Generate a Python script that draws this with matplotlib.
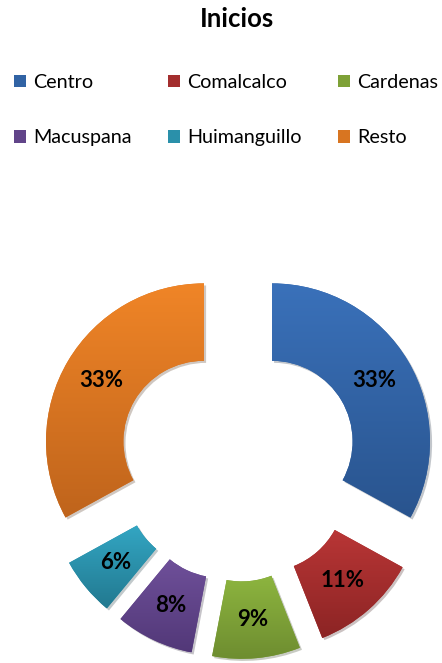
import numpy as np
import matplotlib
matplotlib.use("Agg")
import matplotlib.pyplot as plt
from matplotlib.colors import to_rgb
from matplotlib.patches import Patch
from matplotlib import patheffects as pe

# ----------------------------
# Data
# ----------------------------
municipios = ["Centro", "Comalcalco", "Cardenas", "Macuspana", "Huimanguillo", "Resto"]
inicios_pct = [33, 11, 9, 8, 6, 33]

# Excel-ish gradient colours (top, bottom)
top_colors = ["#3A71BA", "#B93636", "#8DB53F", "#6F509A", "#33A6C3", "#F08527"]
bot_colors = ["#29548E", "#8C2424", "#6E8D30", "#523878", "#227990", "#BF641C"]
mid_colors = ["#3163A4", "#A32E2E", "#7EA137", "#614489", "#2A90AA", "#D87521"]

plt.rcParams.update({
    "font.family": ["Lato", "DejaVu Sans"],
})

W, H, DPI = 442, 663, 100
fig = plt.figure(figsize=(W / DPI, H / DPI), dpi=DPI)

# ----------------------------
# Donut axes (square, centre at ~(238, 462) px)
# ----------------------------
cx, cy, R_px = 238.0, 461.5, 158.0
lim = 1.30
side = 2 * lim * R_px
ax = fig.add_axes([(cx - side / 2) / W, (H - cy - side / 2) / H, side / W, side / H])
ax.set_xlim(-lim, lim)
ax.set_ylim(-lim, lim)
ax.set_aspect("equal")
ax.axis("off")

wedges, texts, autotexts = ax.pie(
    inicios_pct,
    colors=mid_colors,
    startangle=90,
    counterclock=False,
    explode=[0.25] * len(inicios_pct),
    radius=1.0,
    wedgeprops=dict(width=0.49, linewidth=0),
    autopct="%1.0f%%",
    pctdistance=0.755,
    textprops=dict(fontsize=16, fontweight="bold", color="black"),
)

# vertical gradient fill clipped to each wedge + soft shadow
for w, ct, cb in zip(wedges, top_colors, bot_colors):
    w.set_path_effects([pe.SimplePatchShadow(offset=(1.5, -1.5), alpha=0.25), pe.Normal()])
    bb = w.get_path().get_extents(w.get_patch_transform())
    grad = np.linspace(0, 1, 256)[:, None]
    t, b = np.array(to_rgb(ct)), np.array(to_rgb(cb))
    img = (t[None, None, :] * (1 - grad[..., None]) + b[None, None, :] * grad[..., None])
    im = ax.imshow(img, extent=[bb.x0, bb.x1, bb.y0, bb.y1], origin="upper",
                   aspect="auto", zorder=w.get_zorder() + 0.1, interpolation="bilinear")
    im.set_clip_path(w)

for t in autotexts:
    t.set_zorder(5)

ax.set_xlim(-lim, lim)
ax.set_ylim(-lim, lim)

# ----------------------------
# Title
# ----------------------------
fig.text(237.5 / W, 1 - 19 / H, "Inicios", ha="center", va="center",
         fontsize=18.5, fontweight="bold")

# ----------------------------
# Legend (row-major order in 3 columns)
# ----------------------------
order = [0, 3, 1, 4, 2, 5]
handles = [Patch(facecolor=mid_colors[i], linewidth=0) for i in order]
fig.legend(
    handles, [municipios[i] for i in order],
    ncol=3, loc="upper left",
    bbox_to_anchor=(14 / W, 1 - 74 / H),
    frameon=False, fontsize=14.2,
    handlelength=0.62, handleheight=0.62, handletextpad=0.35,
    columnspacing=1.85, labelspacing=1.95,
    borderpad=0, borderaxespad=0,
)

fig.savefig("out.png", dpi=DPI)
